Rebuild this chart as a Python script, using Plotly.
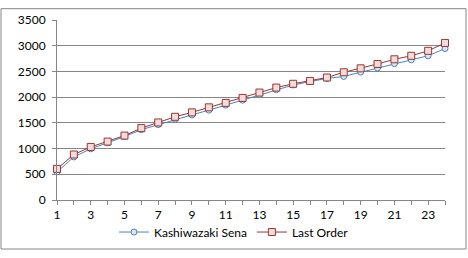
import plotly.graph_objects as go

categories = list(range(1, 25))
sena = [545, 837, 995, 1112, 1233, 1368, 1466, 1570, 1655, 1747, 1845, 1942,
        2047, 2144, 2236, 2303, 2364, 2403, 2487, 2566, 2651, 2725, 2804, 2945]
last_order = [605, 885, 1032, 1136, 1252, 1398, 1508, 1618, 1704, 1802, 1888, 1985,
              2089, 2186, 2260, 2315, 2382, 2484, 2560, 2645, 2736, 2804, 2901, 3054]
x_ticktext = [str(c) if c % 2 == 1 else "" for c in categories]
y_ticks = [0, 500, 1000, 1500, 2000, 2500, 3000, 3500]

FONT = "Lato"
fig = go.Figure()
fig.add_trace(go.Scatter(
    x=categories, y=sena, name="Kashiwazaki Sena", mode="lines+markers",
    line=dict(color="#4F81BD", width=1), cliponaxis=False,
    marker=dict(symbol="circle", size=6, color="#DCE6F2",
                line=dict(color="#4F81BD", width=1)),
))
fig.add_trace(go.Scatter(
    x=categories, y=last_order, name="Last Order", mode="lines+markers",
    line=dict(color="#953735", width=1), cliponaxis=False,
    marker=dict(symbol="square", size=7, color="#F2DCDB",
                line=dict(color="#953735", width=1)),
))

L, R, T, B = 57, 23, 13, 54
W, H = 468, 258
pw, ph = W - L - R, H - T - B

fig.update_layout(
    width=W, height=H,
    margin=dict(l=L, r=R, t=T, b=B),
    paper_bgcolor="white", plot_bgcolor="white",
    font=dict(family=FONT, size=12, color="#000000"),
    showlegend=True,
    legend=dict(orientation="h", x=(234 - L) / pw, xanchor="center",
                y=(T + ph - 238) / ph, yanchor="middle",
                font=dict(family=FONT, size=12), itemwidth=30,
                bgcolor="rgba(0,0,0,0)"),
    xaxis=dict(range=[1, 24], tickvals=categories, ticktext=x_ticktext,
               tickangle=0,
               showgrid=False, showline=True, linecolor="#868686", linewidth=1,
               ticks="outside", ticklen=4, tickcolor="#868686", zeroline=False),
    yaxis=dict(range=[0, 3500], tickvals=y_ticks, showgrid=True,
               gridcolor="#868686", gridwidth=1, showline=True,
               linecolor="#868686", linewidth=1, ticks="outside", ticklen=4,
               tickcolor="#868686", zeroline=False, ticklabelstandoff=4),
    shapes=[dict(type="rect", xref="paper", yref="paper",
                 x0=(1 - L) / pw, x1=(466 - L) / pw,
                 y0=(T + ph - 256) / ph, y1=(T + ph - 1) / ph,
                 line=dict(color="#868686", width=1), fillcolor="rgba(0,0,0,0)",
                 layer="below")],
)

fig.write_html("out.html")
